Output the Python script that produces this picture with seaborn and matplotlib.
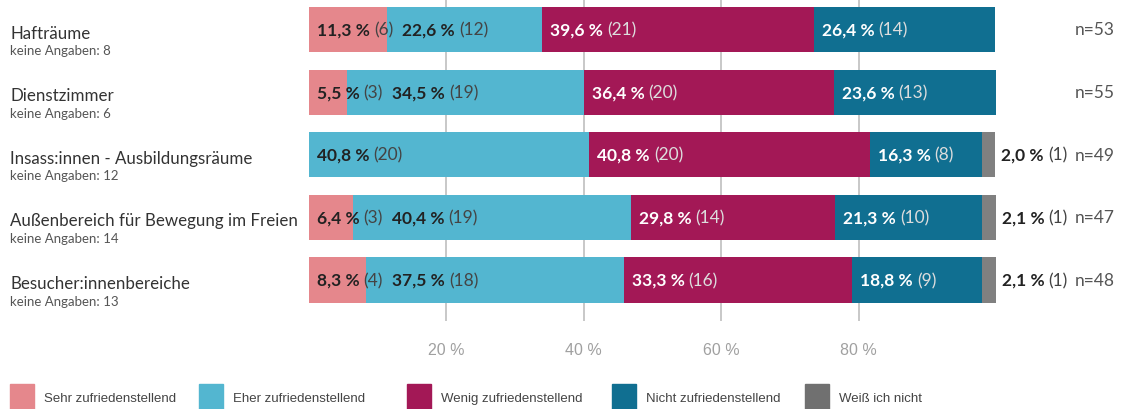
import matplotlib
matplotlib.use("Agg")
import matplotlib.pyplot as plt
import matplotlib.transforms as mtrans
from matplotlib.patches import Rectangle
import seaborn as sns
import numpy as np

categories = ["Hafträume", "Dienstzimmer", "Insass:innen - Ausbildungsräume",
              "Außenbereich für Bewegung im Freien", "Besucher:innenbereiche"]
keine_angaben = [8, 6, 12, 14, 13]
n_values = [53, 55, 49, 47, 48]
responses = ["Sehr zufriedenstellend", "Eher zufriedenstellend", "Wenig zufriedenstellend",
             "Nicht zufriedenstellend", "Weiß ich nicht"]
sehr_pct = [11.3, 5.5, 0.0, 6.4, 8.3]
sehr_n = [6, 3, 0, 3, 4]
eher_pct = [22.6, 34.5, 40.8, 40.4, 37.5]
eher_n = [12, 19, 20, 19, 18]
wenig_pct = [39.6, 36.4, 40.8, 29.8, 33.3]
wenig_n = [21, 20, 20, 14, 16]
nicht_pct = [26.4, 23.6, 16.3, 21.3, 18.8]
nicht_n = [14, 13, 8, 10, 9]
weiss_pct = [0.0, 0.0, 2.0, 2.1, 2.1]
weiss_n = [0, 0, 1, 1, 1]
xticks = [20, 40, 60, 80]

colors = ["#E5878C", "#53B6D0", "#A31856", "#106F91", "#808080"]

pcts = np.array([sehr_pct, eher_pct, wenig_pct, nicht_pct, weiss_pct])
counts = np.array([sehr_n, eher_n, wenig_n, nicht_n, weiss_n])

sns.set_theme(style="white")
MAIN = ["Lato", "DejaVu Sans"]
NARROW = ["Liberation Sans Narrow", "Liberation Sans", "DejaVu Sans"]
plt.rcParams["font.family"] = MAIN

W, H = 1123, 410
fig = plt.figure(figsize=(W / 100, H / 100), dpi=100)
ax = fig.add_axes([309 / W, 1 - 322 / H, (996 - 309) / W, 322 / H])

cum = np.cumsum(pcts, axis=0)
for k in reversed(range(5)):
    sns.barplot(x=cum[k], y=categories, orient="h", color=colors[k], saturation=1,
                width=0.72, linewidth=0, edgecolor="none", ax=ax, zorder=2)

ax.set_xlim(0, 100)
ax.set_ylim(4.655, -0.487)
ax.set_xticks(xticks)
ax.set_xticklabels([f"{t} %" for t in xticks])
ax.grid(axis="x", color="#c8c8c8", linewidth=1.4, zorder=0)
ax.grid(axis="y", visible=False)
ax.set_axisbelow(True)
for s in ax.spines.values():
    s.set_visible(False)
ax.tick_params(left=False, bottom=False, labelleft=False, pad=9)
for lab in ax.get_xticklabels():
    lab.set_color("#a0a0a0")
    lab.set_fontsize(11.5)
    lab.set_family(NARROW)
ax.set_xlabel("")
ax.set_ylabel("")

# left labels and right n labels
bt_left = mtrans.blended_transform_factory(fig.transFigure, ax.transData)
for i, cat in enumerate(categories):
    ax.text(10 / W, i + 0.05, cat, transform=bt_left, ha="left", va="center",
            fontsize=12.2, color="#333333")
    ax.text(10 / W, i + 0.33, f"keine Angaben: {keine_angaben[i]}", transform=bt_left,
            ha="left", va="center", fontsize=9.5, color="#555555")
    ax.text(1115 / W, i, f"n={n_values[i]}", transform=bt_left, ha="right", va="center",
            fontsize=12.5, color="#555555")

# segment labels
fig.canvas.draw()
renderer = fig.canvas.get_renderer()
inv = ax.transData.inverted()
pad, gap, space = 8, 9, 4
for i in range(len(categories)):
    prev_end = -1e9
    left = 0.0
    for k in range(5):
        p = pcts[k, i]
        if p <= 0:
            left += p
            continue
        if k == 4:
            start_px = ax.transData.transform((left + p, i))[0] + 6
        else:
            start_px = max(ax.transData.transform((left, i))[0] + pad, prev_end + gap)
        x_data = inv.transform((start_px, 0))[0]
        if 2 <= k < 4:
            c1, c2 = "white", "#dddddd"
        else:
            c1, c2 = "#222222", "#444444"
        t1 = ax.text(x_data, i, f"{p:.1f} %".replace(".", ","), ha="left", va="center",
                     fontsize=12.5, fontweight="bold", color=c1, zorder=5)
        e1 = t1.get_window_extent(renderer)
        x2 = inv.transform((e1.x1 + space, 0))[0]
        t2 = ax.text(x2, i, f"({counts[k, i]})", ha="left", va="center",
                     fontsize=12.5, color=c2, zorder=5)
        e2 = t2.get_window_extent(renderer)
        prev_end = e2.x1
        left += p

# legend
leg_x = [10, 199, 407, 612, 805]
for k, name in enumerate(responses):
    fig.patches.append(Rectangle((leg_x[k] / W, 0), 24 / W, 25 / H,
                                 transform=fig.transFigure, color=colors[k] if k < 4 else "#707070"))
    fig.text((leg_x[k] + 34) / W, 11 / H, name, ha="left", va="center", fontsize=9.5,
             color="#444444", family=NARROW)

fig.savefig("out.png", dpi=100)
